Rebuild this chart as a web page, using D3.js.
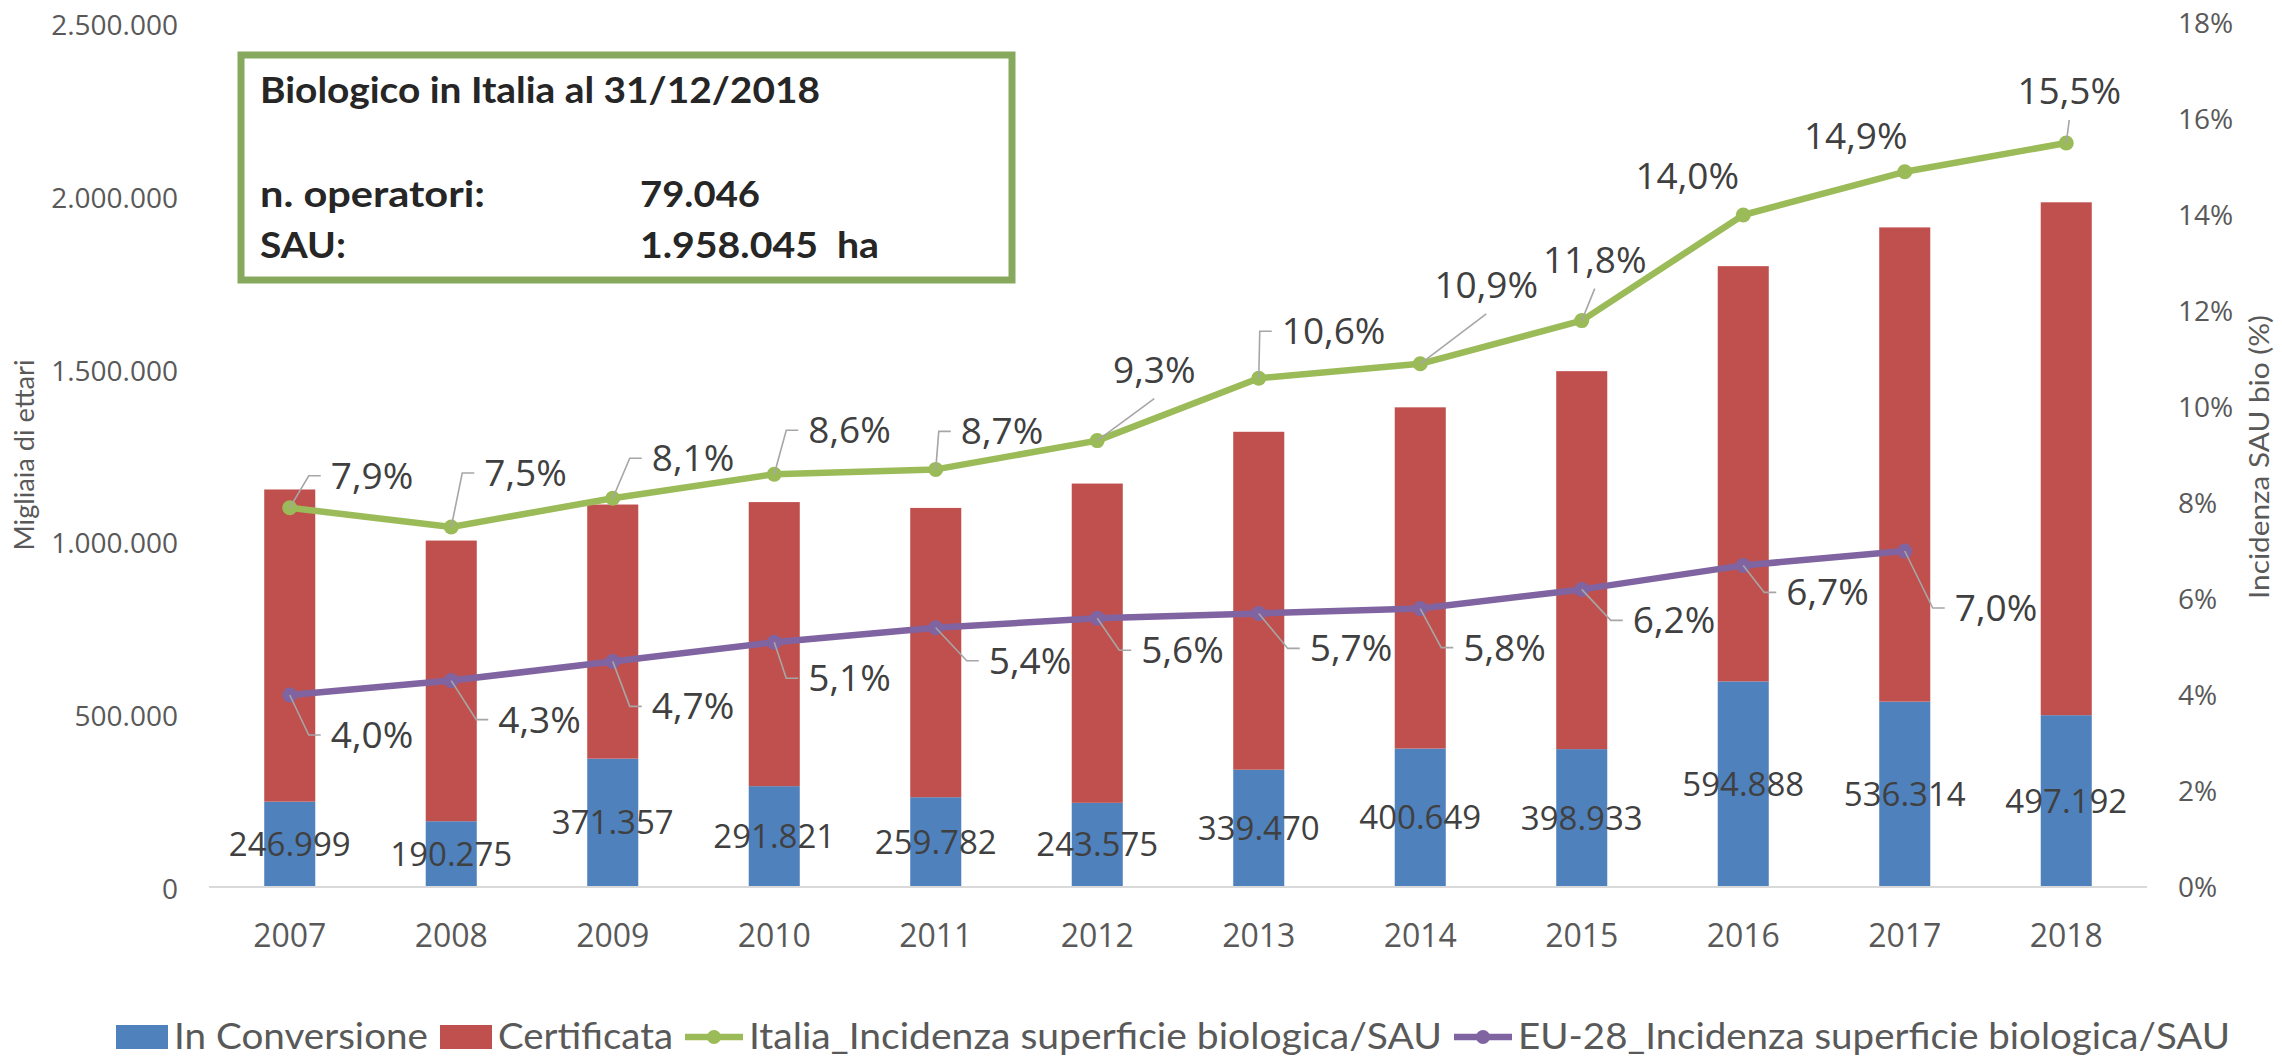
<!DOCTYPE html>
<html>
<head>
<meta charset="utf-8">
<script src="https://cdn.jsdelivr.net/npm/d3@7"></script>
<style>
  html, body { margin: 0; padding: 0; background: #fff; }
  svg { display: block; }
</style>
</head>
<body>
<div id="chart"></div>
<script>
// ---- data ----
const years = [2007, 2008, 2009, 2010, 2011, 2012, 2013, 2014, 2015, 2016, 2017, 2018];
const inConversione = [246999, 190275, 371357, 291821, 259782, 243575, 339470, 400649, 398933, 594888, 536314, 497192];
const certificata = [903254, 812139, 735327, 821921, 837107, 923787, 977707, 987264, 1093646, 1201475, 1372256, 1484000];
const italiaPct = [7.9, 7.5, 8.1, 8.6, 8.7, 9.3, 10.6, 10.9, 11.8, 14.0, 14.9, 15.5];
const eu28Pct = [4.0, 4.3, 4.7, 5.1, 5.4, 5.6, 5.7, 5.8, 6.2, 6.7, 7.0];
const leftTicks = [0, 500000, 1000000, 1500000, 2000000, 2500000];
const rightTicks = [0, 2, 4, 6, 8, 10, 12, 14, 16, 18];

const seriesNames = ["In Conversione", "Certificata",
  "Italia_Incidenza superficie biologica/SAU", "EU-28_Incidenza superficie biologica/SAU"];
const boxLines = [
  ["Biologico in Italia al 31/12/2018", ""],
  ["n. operatori:", "79.046"],
  ["SAU:", "1.958.045  ha"]
];

// label placement (moved labels with leader lines): [mode, dx, dy] from the point
const italiaLabelPos = [
  ["side", 41, -32], ["side", 33, -54], ["side", 39, -40], ["side", 34, -44],
  ["side", 25, -38], ["above", 57, -71], ["side", 23, -47], ["above", 66, -79],
  ["above", 13, -61], ["none", -56, -39], ["none", -49, -36], ["above", 3, -52]
];
const euLabelPos = [
  ["side", 41, 40], ["side", 47, 39], ["side", 39, 45], ["side", 34, 36],
  ["side", 53, 33], ["side", 44, 32], ["side", 51, 35], ["side", 43, 39],
  ["side", 51, 31], ["side", 43, 27], ["side", 50, 57]
];

const W = 2282, H = 1058;
const colors = { conv: "#4F81BD", cert: "#C0504D", ita: "#9BBB59", eu: "#8064A2" };

const it = d3.formatLocale({ decimal: ",", thousands: ".", grouping: [3], currency: ["", " €"] });
const fmtInt = it.format(",.0f");
const fmtPct1 = v => it.format(".1f")(v) + "%";

const svg = d3.select("#chart").append("svg")
  .attr("width", W).attr("height", H)
  .style("background", "#fff");

// scales
const x = d3.scaleBand().domain(years).range([209, 2147])
  .paddingInner(0.684).paddingOuter(0.342);
const y = d3.scaleLinear().domain([0, 2500000]).range([887, 23]);
const y2 = d3.scaleLinear().domain([0, 18]).range([887, 23]);
const cx = d => x(d) + x.bandwidth() / 2;

// stacked bars
const rows = years.map((yr, i) => ({ year: yr, conv: inConversione[i], cert: certificata[i] }));
const stack = d3.stack().keys(["conv", "cert"])(rows);

svg.append("g").selectAll("g")
  .data(stack)
  .join("g")
  .attr("fill", d => colors[d.key])
  .selectAll("rect")
  .data(d => d)
  .join("rect")
  .attr("x", d => x(d.data.year))
  .attr("width", x.bandwidth())
  .attr("y", d => y(d[1]))
  .attr("height", d => y(d[0]) - y(d[1]));

// baseline
svg.append("line")
  .attr("x1", 209).attr("x2", 2147)
  .attr("y1", y(0)).attr("y2", y(0))
  .attr("stroke", "#D9D9D9").attr("stroke-width", 2.2);

// left axis labels
svg.append("g").selectAll("text")
  .data(leftTicks)
  .join("text")
  .attr("x", 178).attr("y", d => y(d) + 2).attr("dy", "0.36em")
  .attr("text-anchor", "end")
  .style("font-family", "'Open Sans', sans-serif").style("font-size", "28px")
  .attr("fill", "#595959")
  .text(d => fmtInt(d));

// right axis labels
svg.append("g").selectAll("text")
  .data(rightTicks)
  .join("text")
  .attr("x", 2178).attr("y", d => y2(d)).attr("dy", "0.36em")
  .style("font-family", "'Open Sans', sans-serif").style("font-size", "28px")
  .attr("fill", "#595959")
  .text(d => d + "%");

// x labels
svg.append("g").selectAll("text")
  .data(years)
  .join("text")
  .attr("x", d => cx(d)).attr("y", 947)
  .attr("text-anchor", "middle")
  .style("font-family", "'Open Sans', sans-serif").style("font-size", "32px")
  .attr("fill", "#595959")
  .text(d => d);

// axis titles
svg.append("text")
  .attr("transform", "translate(34,455) rotate(-90)")
  .attr("text-anchor", "middle")
  .attr("textLength", 191).attr("lengthAdjust", "spacingAndGlyphs")
  .style("font-family", "Lato, sans-serif").style("font-size", "26px")
  .attr("fill", "#595959")
  .text("Migliaia di ettari");

svg.append("text")
  .attr("transform", "translate(2269,457) rotate(-90)")
  .attr("text-anchor", "middle")
  .attr("textLength", 284).attr("lengthAdjust", "spacingAndGlyphs")
  .style("font-family", "Lato, sans-serif").style("font-size", "26px")
  .attr("fill", "#595959")
  .text("Incidenza SAU bio (%)");

// bar value labels (In Conversione), centred in the blue segment
svg.append("g").selectAll("text")
  .data(rows)
  .join("text")
  .attr("x", d => cx(d.year))
  .attr("y", d => (y(0) + y(d.conv)) / 2).attr("dy", "0.35em")
  .attr("text-anchor", "middle")
  .style("font-family", "'Open Sans', sans-serif").style("font-size", "33px")
  .attr("fill", "#404040")
  .text(d => fmtInt(d.conv));

// lines
function drawSeries(values, color, labelPos) {
  const pts = values.map((v, i) => ({ px: cx(years[i]), py: y2(v), v: v, pos: labelPos[i] }));
  const line = d3.line().x(d => d.px).y(d => d.py);

  svg.append("path")
    .datum(pts)
    .attr("d", line)
    .attr("fill", "none")
    .attr("stroke", color)
    .attr("stroke-width", 6.5)
    .attr("stroke-linejoin", "round")
    .attr("stroke-linecap", "round");

  svg.append("g").selectAll("circle")
    .data(pts)
    .join("circle")
    .attr("cx", d => d.px).attr("cy", d => d.py)
    .attr("r", 7.5)
    .attr("fill", color);

  // leader lines
  svg.append("g").selectAll("path")
    .data(pts.filter(d => d.pos[0] !== "none"))
    .join("path")
    .attr("fill", "none")
    .attr("stroke", "#A6A6A6")
    .attr("stroke-width", 1.6)
    .attr("d", d => {
      const lx = d.px + d.pos[1], ly = d.py + d.pos[2];
      if (d.pos[0] === "side") {
        return `M${d.px},${d.py}L${lx - 22},${ly}L${lx - 10},${ly}`;
      }
      return `M${d.px},${d.py}L${lx},${ly + 29}`;
    });

  svg.append("g").selectAll("text")
    .data(pts)
    .join("text")
    .attr("x", d => d.px + d.pos[1])
    .attr("y", d => d.py + d.pos[2]).attr("dy", "0.35em")
    .attr("text-anchor", d => d.pos[0] === "side" ? "start" : "middle")
    .style("font-family", "'Open Sans', sans-serif").style("font-size", "37px")
    .attr("fill", "#404040")
    .text(d => fmtPct1(d.v));
}

drawSeries(italiaPct, colors.ita, italiaLabelPos);
drawSeries(eu28Pct, colors.eu, euLabelPos);

// info box
const box = svg.append("g");
box.append("rect")
  .attr("x", 241).attr("y", 55)
  .attr("width", 771).attr("height", 225)
  .attr("fill", "#fff")
  .attr("stroke", "#86A95E").attr("stroke-width", 7);

const boxWidths = [[560, 0], [225, 120], [86, 239]];
const boxBase = [103, 207, 258];
boxLines.forEach((ln, i) => {
  [0, 1].forEach(j => {
    if (!ln[j]) return;
    box.append("text")
      .attr("x", j === 0 ? 260 : 640).attr("y", boxBase[i])
      .attr("textLength", boxWidths[i][j]).attr("lengthAdjust", "spacingAndGlyphs")
      .style("font-family", "Lato, sans-serif").style("font-size", "36px")
      .style("font-weight", "bold")
      .style("white-space", "pre")
      .attr("fill", "#262626")
      .text(ln[j]);
  });
});

// legend
const legendItems = [
  { name: seriesNames[0], type: "rect", color: colors.conv, len: 254 },
  { name: seriesNames[1], type: "rect", color: colors.cert, len: 175 },
  { name: seriesNames[2], type: "line", color: colors.ita, len: 693 },
  { name: seriesNames[3], type: "line", color: colors.eu, len: 712 }
];
const legend = svg.append("g");
let lx = 116;
const ly = 1037;
legendItems.forEach(it => {
  if (it.type === "rect") {
    legend.append("rect")
      .attr("x", lx).attr("y", ly - 12).attr("width", 52).attr("height", 24)
      .attr("fill", it.color);
    lx += 52;
  } else {
    legend.append("line")
      .attr("x1", lx).attr("x2", lx + 58).attr("y1", ly).attr("y2", ly)
      .attr("stroke", it.color).attr("stroke-width", 6.5);
    legend.append("circle")
      .attr("cx", lx + 29).attr("cy", ly).attr("r", 7).attr("fill", it.color);
    lx += 58;
  }
  lx += 6;
  legend.append("text")
    .attr("x", lx).attr("y", ly + 12)
    .attr("textLength", it.len).attr("lengthAdjust", "spacingAndGlyphs")
    .style("font-family", "Lato, sans-serif").style("font-size", "37px")
    .attr("fill", "#595959")
    .text(it.name);
  lx += it.len + 12;
});
</script>
</body>
</html>
